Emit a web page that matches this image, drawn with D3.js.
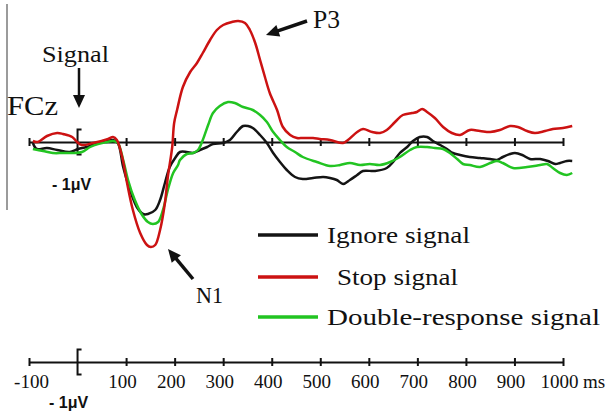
<!DOCTYPE html>
<html>
<head>
<meta charset="utf-8">
<script src="https://cdn.jsdelivr.net/npm/d3@7/dist/d3.min.js"></script>
<style>
  body { margin: 0; background: #fff; }
</style>
</head>
<body>
<div id="chart"></div>
<script>
// time (ms) of the tick marks and their labels
var tickValues = [-100, 100, 200, 300, 400, 500, 600, 700, 800, 900, 1000];
var tickLabels = ["-100", "100", "200", "300", "400", "500", "600", "700", "800", "900", "1000"];

var seriesNames = ["Ignore signal", "Stop signal", "Double-response signal"];

// [ms, µV]
var ignoreSignal = [[-92,-0.04],[-84,-0.28],[-63,-0.24],[-42,-0.32],[-16,-0.4],[1,-0.28],[19,-0.2],[40,-0.04],[61,0.04],[73,0.08],[83,-0.04],[94,-1.0],[108,-1.92],[122,-2.6],[135,-2.88],[145,-2.88],[160,-2.72],[170,-2.32],[180,-1.64],[190,-1.0],[201,-0.64],[211,-0.4],[225,-0.4],[238,-0.44],[252,-0.32],[267,-0.2],[279,-0.08],[300,-0.04],[314,0.08],[328,0.4],[341,0.64],[351,0.64],[361,0.56],[376,0.28],[390,-0.04],[403,-0.44],[417,-0.8],[431,-1.12],[448,-1.4],[464,-1.48],[485,-1.44],[506,-1.4],[520,-1.44],[534,-1.52],[547,-1.68],[561,-1.52],[576,-1.32],[588,-1.16],[613,-1.16],[637,-1.04],[650,-0.8],[664,-0.44],[679,-0.2],[691,0.04],[705,0.2],[720,0.2],[732,0.04],[747,-0.12],[761,-0.28],[773,-0.44],[788,-0.52],[808,-0.6],[829,-0.64],[850,-0.68],[864,-0.72],[876,-0.6],[891,-0.48],[901,-0.44],[916,-0.52],[932,-0.68],[953,-0.68],[969,-0.76],[984,-0.88],[994,-0.84],[1008,-0.76],[1019,-0.76]];

var stopSignal = [[-92,0.04],[-82,0],[-63,0.24],[-42,0.36],[-30,0.32],[-11,0.2],[-1,0],[9,-0.12],[32,-0.04],[63,0.12],[73,0.2],[81,0.08],[92,-0.6],[102,-1.64],[114,-2.72],[129,-3.64],[143,-4.12],[151,-4.2],[160,-4.12],[170,-3.52],[180,-2.44],[186,-1.4],[195,-0.2],[199,0.76],[205,1.28],[217,2.2],[232,2.8],[246,3.16],[258,3.56],[273,4.08],[287,4.48],[300,4.68],[318,4.8],[331,4.84],[345,4.76],[355,4.48],[366,3.96],[376,3.28],[386,2.6],[396,1.96],[411,1.28],[423,0.6],[438,0.28],[452,0.16],[464,0.16],[485,0.16],[499,0.12],[520,0.08],[547,-0.04],[557,0.08],[576,0.4],[588,0.52],[607,0.4],[623,0.36],[637,0.48],[654,0.8],[670,1.08],[689,1.16],[699,1.2],[710,1.32],[720,1.2],[736,0.96],[753,0.6],[771,0.36],[788,0.28],[808,0.48],[829,0.44],[850,0.4],[870,0.48],[891,0.64],[907,0.6],[926,0.44],[942,0.36],[963,0.44],[979,0.52],[1000,0.56],[1019,0.64]];

var doubleSignal = [[-92,-0.28],[-71,-0.36],[-51,-0.44],[-30,-0.44],[-9,-0.44],[9,-0.4],[26,-0.2],[42,-0.08],[61,0],[73,0.04],[83,-0.04],[94,-0.72],[104,-1.52],[118,-2.32],[133,-2.92],[145,-3.2],[155,-3.28],[166,-3.2],[176,-2.72],[186,-1.92],[197,-1.24],[207,-0.92],[211,-0.72],[225,-0.48],[238,-0.44],[248,-0.32],[258,0.08],[269,0.68],[279,1.16],[293,1.44],[310,1.6],[324,1.56],[341,1.4],[361,1.28],[376,1.08],[390,0.8],[403,0.4],[417,0.08],[431,-0.2],[448,-0.4],[464,-0.6],[493,-0.8],[520,-0.96],[541,-0.92],[561,-0.84],[582,-0.92],[602,-0.88],[623,-0.92],[644,-0.8],[664,-0.6],[685,-0.32],[699,-0.2],[720,-0.2],[736,-0.24],[753,-0.28],[767,-0.44],[782,-0.68],[794,-0.88],[808,-0.92],[829,-1.0],[850,-0.84],[864,-0.76],[876,-0.84],[897,-1.04],[926,-1.0],[953,-0.92],[967,-0.88],[979,-1.04],[994,-1.24],[1008,-1.32],[1019,-1.24]];

var width = 615, height = 413;
var serif = "'Liberation Serif', 'Times New Roman', serif";
var sans = "'Liberation Sans', Arial, sans-serif";
var colors = ["#141414", "#cc1212", "#22c422"];

var svg = d3.select("#chart")
  .append("svg")
    .attr("width", width)
    .attr("height", height);

// scales: 0 µV sits on the top time axis
var x = d3.scaleLinear().domain([-100, 1000]).range([29, 563]);
var y = d3.scaleLinear().domain([-5, 5]).range([267, 17]);
var halfUv = y(0) - y(0.5);

// left frame line
svg.append("line")
  .attr("x1", 7).attr("x2", 7)
  .attr("y1", 4).attr("y2", 210)
  .attr("stroke", "#7a7a7a")
  .attr("stroke-width", 1.5);

// time axis drawn through the baseline, ticks on both sides
function timeAxis(g, labels) {
  g.call(d3.axisBottom(x)
      .tickValues(tickValues)
      .tickSizeInner(4)
      .tickSizeOuter(0)
      .tickFormat(labels ? (d, i) => tickLabels[i] : ""));
  g.attr("font-family", serif);
  g.select(".domain").attr("stroke", "#111").attr("stroke-width", 2);
  g.selectAll(".tick line")
    .attr("y1", -4).attr("y2", 4)
    .attr("stroke", "#111").attr("stroke-width", 2);
  g.selectAll(".tick text")
    .attr("y", 26).attr("dy", 0).attr("dx", d => d < 0 ? 2 : -4)
    .attr("fill", "#111")
    .style("font-family", serif)
    .style("font-size", "19px");
  // 1 µV calibration bracket at 0 ms
  g.append("path")
    .attr("d", "M" + (x(0) + 4) + "," + (-halfUv) + "H" + x(0) +
               "V" + halfUv + "H" + (x(0) + 4))
    .attr("fill", "none")
    .attr("stroke", "#111")
    .attr("stroke-width", 2);
}

svg.append("g")
  .attr("transform", "translate(0," + y(0) + ")")
  .call(timeAxis, false);

var bottomAxis = svg.append("g")
  .attr("transform", "translate(0,362)")
  .call(timeAxis, true);

bottomAxis.append("text")
  .attr("x", 583).attr("y", 26)
  .attr("text-anchor", "start")
  .attr("fill", "#111")
  .style("font-family", serif)
  .style("font-size", "19px")
  .text("ms");

// "- 1µV" labels
[[52, 190], [49, 408]].forEach(function(p) {
  svg.append("text")
    .attr("x", p[0]).attr("y", p[1])
    .attr("fill", "#111")
    .style("font-family", sans)
    .style("font-weight", "bold")
    .style("font-size", "16px")
    .text("- 1\u03bcV");
});

// waveforms
var line = d3.line()
  .x(d => x(d[0]))
  .y(d => y(d[1]))
  .curve(d3.curveCatmullRom);

[ignoreSignal, doubleSignal, stopSignal].forEach(function(s) {
  var c = s === ignoreSignal ? colors[0] : s === stopSignal ? colors[1] : colors[2];
  svg.append("path")
    .datum(s)
    .attr("d", line)
    .attr("fill", "none")
    .attr("stroke", c)
    .attr("stroke-width", 2.5)
    .attr("stroke-linejoin", "round");
});

// annotations
function arrow(x1, y1, x2, y2, w) {
  var dx = x2 - x1, dy = y2 - y1, len = Math.sqrt(dx * dx + dy * dy);
  var ux = dx / len, uy = dy / len, hl = 13, hw = 6;
  var bx = x2 - ux * hl, by = y2 - uy * hl;
  svg.append("line")
    .attr("x1", x1).attr("y1", y1).attr("x2", bx + ux * 2).attr("y2", by + uy * 2)
    .attr("stroke", "#111").attr("stroke-width", w);
  svg.append("path")
    .attr("d", "M" + x2 + "," + y2 +
               "L" + (bx - uy * hw) + "," + (by + ux * hw) +
               "L" + (bx + uy * hw) + "," + (by - ux * hw) + "Z")
    .attr("fill", "#111");
}

function label(txt, px, py, size, len) {
  svg.append("text")
    .attr("x", px).attr("y", py)
    .attr("fill", "#111")
    .attr("textLength", len)
    .attr("lengthAdjust", "spacingAndGlyphs")
    .style("font-family", serif)
    .style("font-size", size + "px")
    .text(txt);
}

label("Signal", 42, 62, 24, 67);
arrow(79, 68, 79, 108, 2.5);
label("FCz", 7, 115, 27, 51);
label("P3", 313, 28, 26, 27);
arrow(307, 21, 266, 35, 3.5);
label("N1", 196, 303, 24, 27);
arrow(193, 279, 168, 249, 3.5);

// legend
var legendY = [235, 277, 317];
var legendX = [327, 337, 327];
var legendLen = [143, 121, 273];
seriesNames.forEach(function(name, i) {
  svg.append("line")
    .attr("x1", 258).attr("x2", 318)
    .attr("y1", legendY[i]).attr("y2", legendY[i])
    .attr("stroke", colors[i])
    .attr("stroke-width", 3.5);
  label(name, legendX[i], legendY[i] + 8, 24, legendLen[i]);
});
</script>
</body>
</html>
